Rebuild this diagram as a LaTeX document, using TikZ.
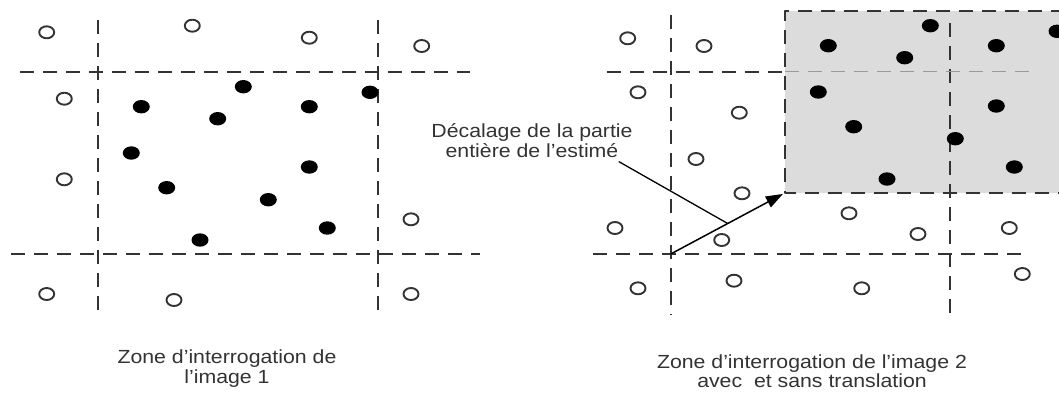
\documentclass[tikz,border=0pt]{standalone}
\usepackage{fontspec}
\usepackage{tikz}
\usetikzlibrary{arrows.meta}
\newfontfamily\zifont{Liberation Sans}[FakeStretch=1.12]
\definecolor{ziInk}{HTML}{333333}
\definecolor{ziText}{HTML}{333333}
\definecolor{ziWash}{HTML}{DCDCDC}
\definecolor{ziFaint}{HTML}{9A9A9A}
\tikzset{
  zi diagram/.style={x=1pt, y=-1pt, line join=round},
  zi grid/.style={draw=ziInk, line width=2.1pt, dash pattern=on 14pt off 9pt},
  zi faint grid/.style={zi grid, draw=ziFaint, line width=1.5pt},
  zi open/.style={draw=ziInk, line width=1.9pt, fill=white},
  zi full/.style={fill=black},
  zi arrow/.style={-{Triangle[length=17pt,width=12pt]}, draw=black, line width=1.5pt},
  zi leader/.style={draw=black, line width=1.3pt},
  zi text/.style={font=\zifont\fontsize{19}{19.5}\selectfont, text=ziText,
    align=center, inner sep=0pt, anchor=north}
}
% particules de la zone d'interrogation (image 1)
\newcommand\ziFullList{(243.3,86.7),(370,92.3),(141.3,106.7),(309.3,106.7),
  (217.7,118.7),(131.3,153),(309.3,167),(166.7,187.7),(268.3,199.7),
  (327.3,228),(200,240)}
\newcommand\ziOpenLeft{(46.7,32.3),(192.3,25.7),(309.3,37.7),(421.7,46),
  (64.3,98.7),(64.3,179.3),(411,219.3),(46.7,294),(174,300),(411,294)}
\newcommand\ziOpenRight{(627.7,38.3),(704,46),(638,92.3),(739.3,112.7),
  (696,159),(742,193.3),(615,228),(721.7,240),(849,213.3),(918,234),
  (1009.3,228),(638,288.3),(734,280.7),(861.7,288.3),(1022.3,274)}

\begin{document}
\begin{tikzpicture}[zi diagram]
\useasboundingbox (0,0) rectangle (1059,392);
% image 1
\draw[zi grid] (97.7,20) -- (97.7,315);
\draw[zi grid] (377.7,20) -- (377.7,315);
\draw[zi grid] (20,71.7) -- (470,71.7);
\draw[zi grid] (11,254) -- (480,254);
\foreach \p in \ziOpenLeft
  \draw[zi open] \p ellipse[x radius=7.5pt, y radius=6pt];
\foreach \p in \ziFullList
  \fill[zi full] \p ellipse[x radius=8.5pt, y radius=6.7pt];
\node[zi text] (cap1) at (227,350) {Zone d’interrogation de\\l’image 1};
% image 2
\begin{scope}[shift={(687,-61)}]
\fill[ziWash] (97.7,71.7) rectangle (377.7,254);
\end{scope}
\draw[zi grid] (670.7,15) -- (670.7,315);
\draw[zi grid] (950,23) -- (950,315);
\draw[zi grid] (606.7,71.7) -- (785,71.7);
\draw[zi faint grid] (785,71.7) -- (1038,71.7);
\draw[zi grid] (593,254) -- (1025,254);
\begin{scope}[shift={(687,-61)}]
\draw[zi grid] (377.7,71.7) -- (97.7,71.7) -- (97.7,254) -- (377.7,254);
\coordinate (corner) at (97.7,254);
\foreach \p in \ziFullList
  \fill[zi full] \p ellipse[x radius=8.5pt, y radius=6.7pt];
\end{scope}
\foreach \p in \ziOpenRight
  \draw[zi open] \p ellipse[x radius=7.5pt, y radius=6pt];
\coordinate (origin) at (670.7,254);
\draw[zi arrow, shorten >=2pt] (origin) -- coordinate[pos=0.5] (mid) (corner);
\node[zi text] (lbl) at (532,123.5) {Décalage de la partie\\entière de l’estimé};
\draw[zi leader] ([xshift=-14pt,yshift=-4pt]lbl.south east) -- (mid);
\node[zi text, font=\zifont\fontsize{19}{14.5}\selectfont] (cap2) at (812,354.5)
  {Zone d’interrogation de l’image 2\\avec \ et sans translation};
\end{tikzpicture}
\end{document}
